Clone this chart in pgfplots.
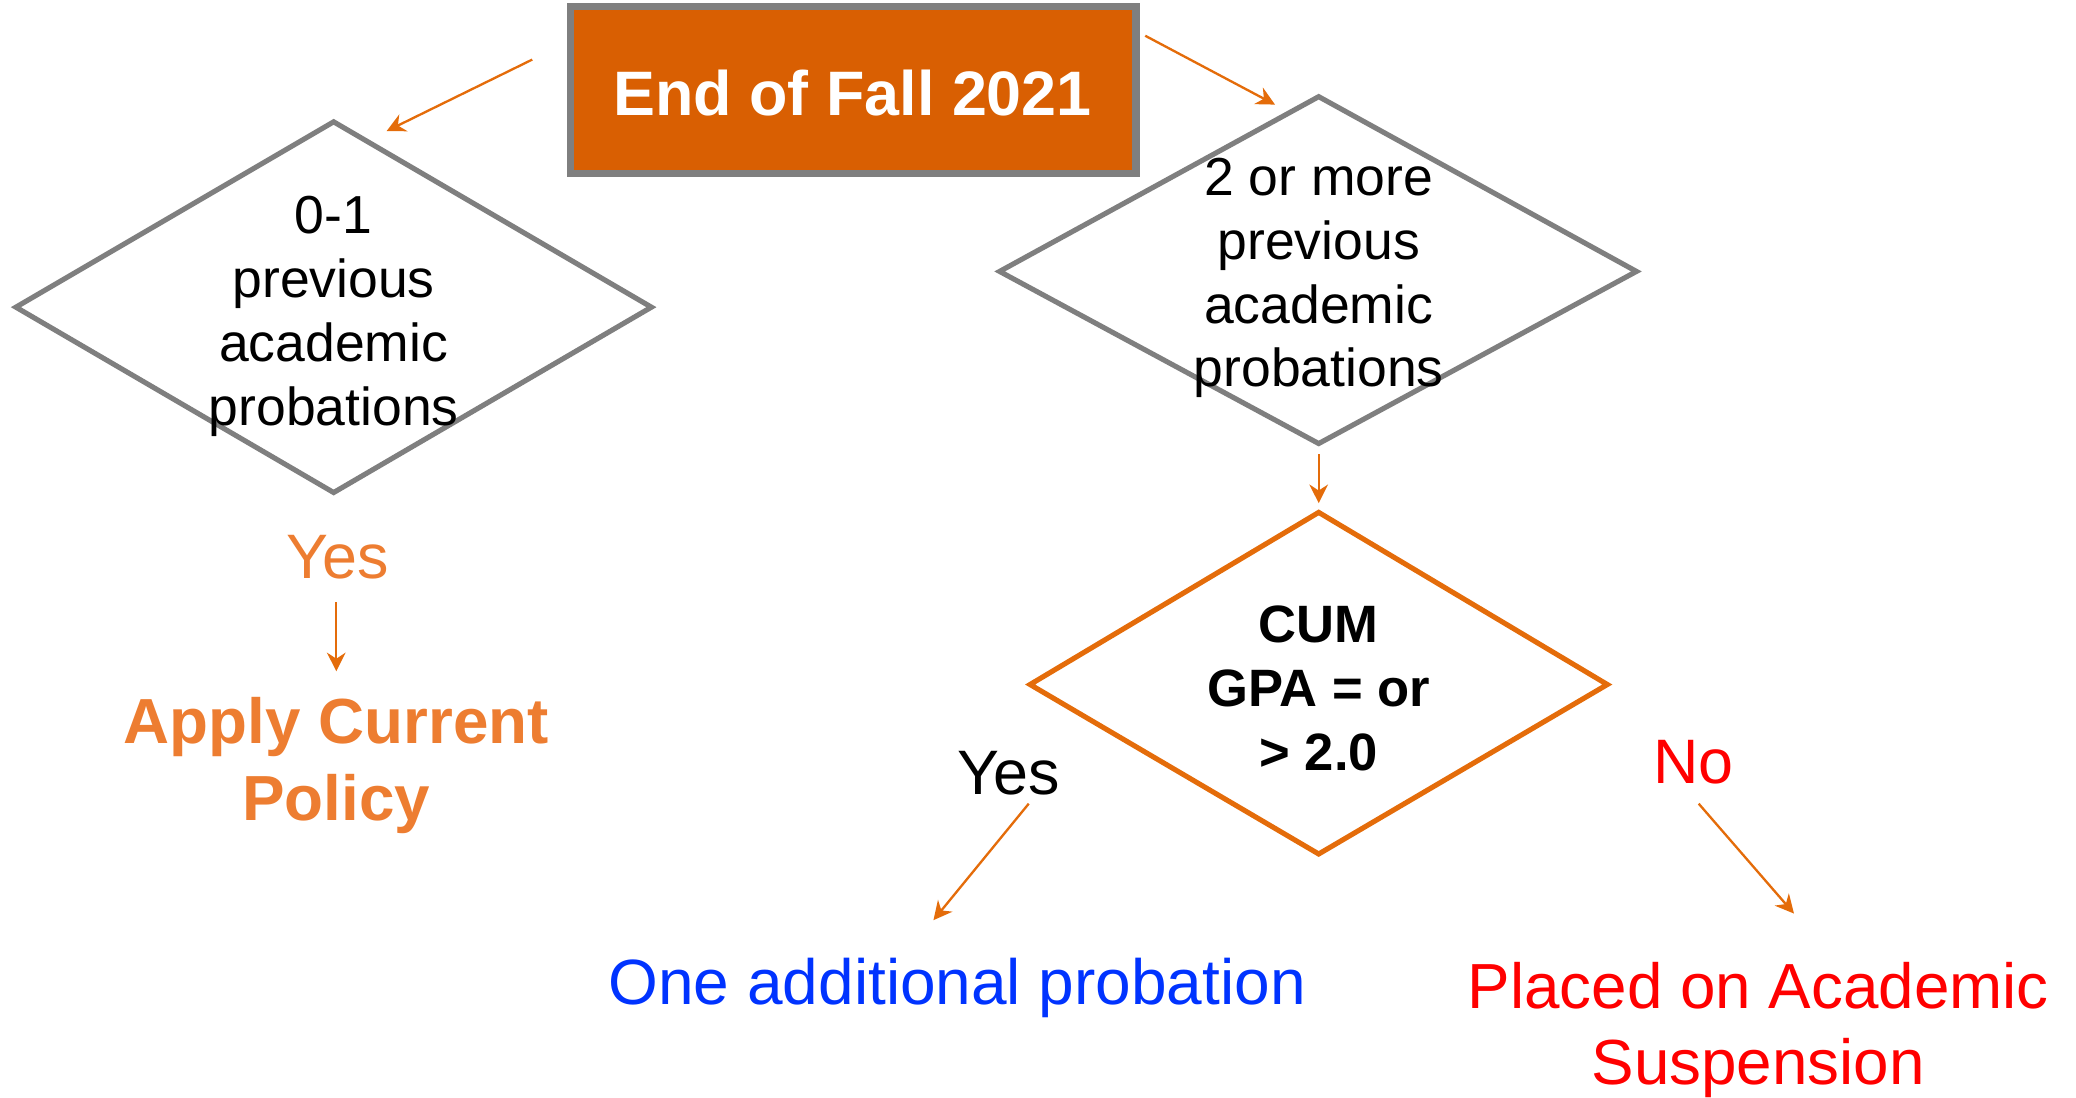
\documentclass[border=0pt]{standalone}
\usepackage{pgfplots}
\pgfplotsset{compat=1.18}
\usepackage{fontspec}
\setmainfont{Liberation Sans}
\usetikzlibrary{arrows.meta}
\definecolor{boxor}{RGB}{217,95,2}
\definecolor{gr}{RGB}{127,127,127}
\definecolor{aror}{RGB}{228,108,10}
\definecolor{txor}{RGB}{237,125,49}
\definecolor{bl}{RGB}{0,51,255}
\definecolor{rd}{RGB}{255,0,0}
\newcommand{\fs}[2]{\fontsize{#1}{#2}\selectfont}
\tikzset{lbl/.style={align=center, inner sep=0pt}}
\begin{document}
\begin{tikzpicture}
\begin{axis}[
  width=15.68cm, height=8.28cm, scale only axis,
  xmin=0, xmax=1568, ymin=0, ymax=828, y dir=reverse,
  hide axis, clip=false,
]
\addplot[draw=none] coordinates {(0,0) (1568,828)};
% top box
\addplot[draw=gr, fill=boxor, line width=1.6pt] coordinates {(431,5) (858,5) (858,131) (431,131)} --cycle;
\node[lbl, text=white] at (axis cs:644,70) {\fs{13.5}{16}\bfseries End of Fall 2021};
% left diamond
\addplot[draw=gr, line width=1.1pt, line join=miter] coordinates {(12,232) (252,92) (492,232) (252,372)} --cycle;
\node[lbl, font=\fs{11.5}{13.7}] at (axis cs:252,239) {0-1\\previous\\academic\\probations};
% right diamond
\addplot[draw=gr, line width=1.1pt] coordinates {(755,205) (996,73) (1236,205) (996,335)} --cycle;
\node[lbl, font=\fs{11.5}{13.7}] at (axis cs:996,210) {2 or more\\previous\\academic\\probations};
% orange diamond
\addplot[draw=aror, line width=1.1pt] coordinates {(778,517) (996,387) (1214,517) (996,645)} --cycle;
\node[lbl, font=\fs{11.3}{13.7}\bfseries] at (axis cs:996,520) {CUM\\GPA = or\\> 2.0};
% arrows
\addplot[draw=aror, line width=0.5pt, -{Stealth[length=4pt,width=4pt]}] coordinates {(402,45) (292,99)};
\addplot[draw=aror, line width=0.5pt, -{Stealth[length=4pt,width=4pt]}] coordinates {(865,27) (963,79)};
\addplot[draw=aror, line width=0.5pt, -{Stealth[length=4pt,width=4pt]}] coordinates {(996,343) (996,380)};
\addplot[draw=aror, line width=0.5pt, -{Stealth[length=4pt,width=4pt]}] coordinates {(254,455) (254,507)};
\addplot[draw=aror, line width=0.5pt, -{Stealth[length=4pt,width=4pt]}] coordinates {(777,607) (705,695)};
\addplot[draw=aror, line width=0.5pt, -{Stealth[length=4pt,width=4pt]}] coordinates {(1283,607) (1355,690)};
% labels
\node[lbl, text=txor, font=\fs{13.5}{16}] at (axis cs:255,421) {Yes};
\node[lbl, text=txor, font=\fs{13.7}{16.5}\bfseries] at (axis cs:254,578) {Apply Current\\Policy};
\node[lbl, font=\fs{13.5}{16}] at (axis cs:762,584) {Yes};
\node[lbl, text=rd, font=\fs{13.5}{16}] at (axis cs:1279,576) {No};
\node[lbl, text=bl, font=\fs{13.75}{16}] at (axis cs:723,746) {One additional probation};
\node[lbl, text=rd, font=\fs{13.7}{16.3}] at (axis cs:1328,778) {Placed on Academic\\Suspension};
\end{axis}
\end{tikzpicture}
\end{document}
